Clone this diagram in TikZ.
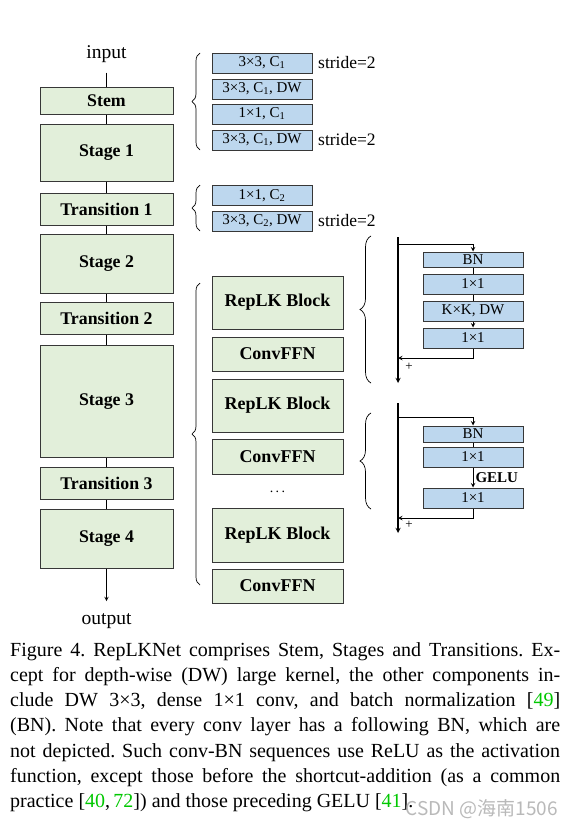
\documentclass[tikz,border=0pt]{standalone}
\usepackage{fontspec}
\setmainfont{Liberation Serif}
\newfontfamily\cjkfont{Noto Sans CJK SC}
\usetikzlibrary{decorations.pathreplacing}
\definecolor{stagegreen}{RGB}{226,239,218}
\definecolor{layerblue}{RGB}{189,215,238}
\definecolor{edgegray}{RGB}{55,55,55}
\definecolor{citegreen}{RGB}{0,200,0}
\begin{document}
\begin{tikzpicture}[x=1pt,y=-1pt,>=stealth,
    stage/.style={draw=edgegray,line width=1pt,fill=stagegreen,minimum width=133pt,inner sep=0pt,font=\fontsize{17.8}{20}\selectfont\bfseries},
    block/.style={stage,minimum width=131pt,font=\fontsize{18}{20}\selectfont\bfseries},
    layer/.style={draw=edgegray,line width=1pt,fill=layerblue,minimum width=100pt,minimum height=20pt,inner sep=0pt,font=\fontsize{15}{17}\selectfont},
    lbl/.style={inner sep=0pt,font=\fontsize{19.5}{21}\selectfont},
    stridelbl/.style={inner sep=0pt,anchor=west,font=\fontsize{17.5}{20}\selectfont},
    wire/.style={line width=1pt},
    trunk/.style={line width=1.3pt},
    curly/.style={decorate,decoration={brace,amplitude=8pt},line width=0.7pt}]
        \fill[white] (0,0) rectangle (573,830);
        \useasboundingbox (0,0) rectangle (573,830);
        % main column
        \node[lbl] (in) at (106.5,54) {input};
        \node[stage,minimum height=27pt] (stem) at (106.5,100.5) {Stem};
        \node[stage,minimum height=57pt] (s1) at (106.5,152.5) {Stage 1};
        \node[stage,minimum height=32pt] (t1) at (106.5,209) {Transition 1};
        \node[stage,minimum height=59pt] (s2) at (106.5,263.5) {Stage 2};
        \node[stage,minimum height=32pt] (t2) at (106.5,318) {Transition 2};
        \node[stage,minimum height=112pt] (s3) at (106.5,401.5) {Stage 3};
        \node[stage,minimum height=32pt] (t3) at (106.5,483.5) {Transition 3};
        \node[stage,minimum height=59pt] (s4) at (106.5,538.5) {Stage 4};
        \node[lbl] (out) at (106.5,621) {output};
        \draw[wire,shorten <=10pt] (in) -- (stem);
        \foreach \a/\b in {stem/s1,s1/t1,t1/s2,s2/t2,t2/s3,s3/t3,t3/s4}
            \draw[wire] (\a) -- (\b);
        \draw[wire,->,shorten >=12pt] (s4) -- (out);
        % stem layers
        \draw[curly] (200,150) -- (200,53);
        \node[layer] (l1) at (262,63) {3×3, C\textsubscript{1}};
        \node[layer] (l2) at (262,89) {3×3, C\textsubscript{1}, DW};
        \node[layer] (l3) at (262,114) {1×1, C\textsubscript{1}};
        \node[layer] (l4) at (262,140) {3×3, C\textsubscript{1}, DW};
        \node[stridelbl] (st1) at (318,63) {stride=2};
        \node[stridelbl] (st2) at (318,140) {stride=2};
        % transition layers
        \draw[curly] (200,231) -- (200,185);
        \node[layer] (l5) at (262,195.5) {1×1, C\textsubscript{2}};
        \node[layer] (l6) at (262,221) {3×3, C\textsubscript{2}, DW};
        \node[stridelbl] (st3) at (318,221) {stride=2};
        % stage blocks
        \draw[curly] (200,585) -- (200,283);
        \node[block,minimum height=53pt] (rep1) at (277.5,302.5) {RepLK Block};
        \node[block,minimum height=34pt] (ffn1) at (277.5,354) {ConvFFN};
        \node[block,minimum height=53pt] (rep2) at (277.5,405.5) {RepLK Block};
        \node[block,minimum height=35pt] (ffn2) at (277.5,456.5) {ConvFFN};
        \node[inner sep=0pt,font=\fontsize{14}{16}\selectfont] (dots) at (277.5,492) {.\,.\,.};
        \node[block,minimum height=54pt] (rep3) at (277.5,535) {RepLK Block};
        \node[block,minimum height=34pt] (ffn3) at (277.5,586) {ConvFFN};
        % replk block
        \draw[curly,decoration={amplitude=11pt}] (371,383) -- (371,236);
        \coordinate (r1top) at (398,237);
        \coordinate (r1split) at (398,244);
        \coordinate (r1join) at (398,358);
        \coordinate (r1end) at (398,383);
        \node[layer,minimum height=15pt] (bn1) at (473,259.5) {BN};
        \node[layer] (k1a) at (473,284) {1×1};
        \node[layer] (dw1) at (473,311) {K×K, DW};
        \node[layer] (k1b) at (473,338) {1×1};
        \draw[trunk,->] (r1top) -- (r1end);
        \draw[wire,->] (r1split) -| (bn1);
        \draw[wire] (bn1) -- (k1a);
        \draw[wire] (k1a) -- (dw1);
        \draw[wire,->] (dw1) -- (k1b);
        \draw[wire,->] (k1b) |- (r1join);
        \node[inner sep=0pt,font=\fontsize{13}{14}\selectfont] (plus1) at (409,367) {+};
        % convffn
        \draw[curly,decoration={amplitude=11pt}] (371,509) -- (371,413);
        \coordinate (r2top) at (398,403);
        \coordinate (r2split) at (398,417);
        \coordinate (r2join) at (398,518);
        \coordinate (r2end) at (398,533);
        \node[layer,minimum height=16pt] (bn2) at (473,434) {BN};
        \node[layer] (k2a) at (473,457) {1×1};
        \node[layer] (k2b) at (473,498) {1×1};
        \draw[trunk,->] (r2top) -- (r2end);
        \draw[wire,->] (r2split) -| (bn2);
        \draw[wire] (bn2) -- (k2a);
        \draw[wire,->] (k2a) -- (k2b) node[midway,right,inner sep=2pt,font=\fontsize{15}{17}\selectfont\bfseries] (gelu) {GELU};
        \draw[wire,->] (k2b) |- (r2join);
        \node[inner sep=0pt,font=\fontsize{13}{14}\selectfont] (plus2) at (409,525) {+};
        % caption
        \node[anchor=north west,inner sep=0pt,font=\fontsize{20}{25.3}\selectfont\frenchspacing] (cap) at (10,642) {\vbox{\hsize=550pt
            \hbox to 550pt{Figure 4. RepLKNet comprises Stem, Stages and Transitions. Ex-}
            \hbox to 550pt{cept for depth-wise (DW) large kernel, the other components in-}
            \hbox to 550pt{clude DW 3×3, dense 1×1 conv, and batch normalization [\textcolor{citegreen}{49}]}
            \hbox to 550pt{(BN). Note that every conv layer has a following BN, which are}
            \hbox to 550pt{not depicted. Such conv-BN sequences use ReLU as the activation}
            \hbox to 550pt{function, except those before the shortcut-addition (as a common}
            \hbox{practice [\textcolor{citegreen}{40},\,\textcolor{citegreen}{72}]) and those preceding GELU [\textcolor{citegreen}{41}].}}};
        \node[anchor=east,inner sep=0pt,text=gray!60,opacity=0.9,font=\cjkfont\fontsize{19}{20}\selectfont] (mark) at (558,809) {CSDN @海南1506};
    \end{tikzpicture}
\end{document}
